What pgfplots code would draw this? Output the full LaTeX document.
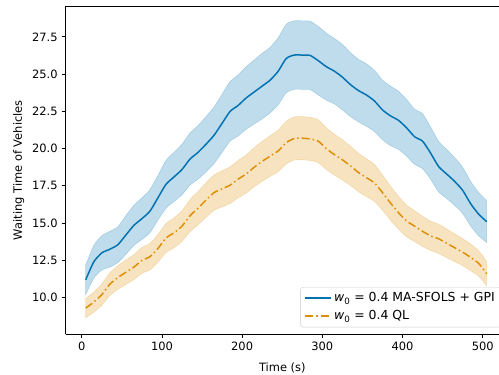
\documentclass[border=0pt]{standalone}
\usepackage{fontspec}
\setmainfont{DejaVu Sans}
\usepackage{pgfplots}
\usepackage{pgfplotstable}
\pgfplotsset{compat=1.18}
\usepgfplotslibrary{fillbetween}
\definecolor{cB}{RGB}{1,115,178}
\definecolor{cO}{RGB}{222,143,5}
\pgfplotstableread{
x m lo hi
5 11.2 10.2 12.2
15 12.4 11.3 13.5
25 13.0 11.85 14.15
35 13.25 12.05 14.45
45 13.55 12.35 14.75
55 14.2 12.9 15.5
65 14.85 13.5 16.2
75 15.3 13.9 16.7
85 15.8 14.35 17.25
95 16.7 15.2 18.2
105 17.6 16.0 19.2
115 18.1 16.45 19.75
125 18.6 16.9 20.3
135 19.3 17.55 21.05
145 19.75 17.95 21.55
155 20.3 18.45 22.15
165 20.9 19.0 22.8
175 21.7 19.75 23.65
185 22.5 20.5 24.5
195 22.9 20.85 24.95
205 23.4 21.3 25.5
215 23.8 21.65 25.95
225 24.2 22.0 26.4
235 24.6 22.4 26.8
245 25.2 22.95 27.45
255 26.05 23.75 28.35
265 26.28 23.98 28.58
275 26.28 23.98 28.58
285 26.25 23.95 28.55
295 25.9 23.6 28.2
305 25.5 23.25 27.75
315 25.2 23.0 27.4
325 24.8 22.6 27.0
335 24.3 22.15 26.45
345 23.9 21.8 26.0
355 23.6 21.5 25.7
365 23.2 21.15 25.25
375 22.6 20.6 24.6
385 22.2 20.2 24.2
395 21.9 19.95 23.85
405 21.4 19.5 23.3
415 20.8 18.95 22.65
425 20.5 18.65 22.35
435 19.7 17.95 21.45
445 18.8 17.1 20.5
455 18.3 16.65 19.95
465 17.8 16.2 19.4
475 17.2 15.65 18.75
485 16.3 14.8 17.8
495 15.6 14.15 17.05
505 15.1 13.7 16.5
}\gpi
\pgfplotstableread{
x m lo hi
5 9.3 8.65 9.95
15 9.7 9.02 10.38
25 10.2 9.49 10.91
35 10.9 10.14 11.66
45 11.35 10.56 12.14
55 11.7 10.88 12.52
65 12.05 11.21 12.89
75 12.5 11.63 13.37
85 12.75 11.86 13.64
95 13.3 12.37 14.23
105 14.0 13.02 14.98
115 14.35 13.35 15.35
125 14.8 13.77 15.83
135 15.5 14.42 16.58
145 16.0 14.88 17.12
155 16.55 15.39 17.71
165 17.05 15.86 18.24
175 17.3 16.09 18.51
185 17.55 16.32 18.78
195 17.95 16.69 19.21
205 18.3 17.02 19.58
215 18.75 17.44 20.06
225 19.15 17.81 20.49
235 19.5 18.14 20.86
245 19.85 18.46 21.24
255 20.4 18.97 21.83
265 20.68 19.23 22.13
275 20.7 19.25 22.15
285 20.65 19.2 22.1
295 20.5 19.06 21.94
305 20.0 18.6 21.4
315 19.6 18.23 20.97
325 19.25 17.9 20.6
335 18.85 17.53 20.17
345 18.4 17.11 19.69
355 18.05 16.78 19.32
365 17.7 16.46 18.94
375 17.05 15.87 18.23
385 16.35 15.21 17.49
395 15.7 14.6 16.8
405 15.15 14.09 16.21
415 14.8 13.76 15.84
425 14.45 13.44 15.46
435 14.15 13.16 15.14
445 13.95 12.97 14.93
455 13.65 12.69 14.61
465 13.35 12.42 14.28
475 13.05 12.14 13.96
485 12.7 11.81 13.59
495 12.3 11.44 13.16
505 11.6 10.79 12.41
}\ql
\begin{document}
\fontsize{11.5}{13.8}\selectfont
\begin{tikzpicture}
\begin{axis}[
  scale only axis,
  width=433.3bp, height=327.5bp,
  xmin=-20, xmax=520.3,
  ymin=7.56, ymax=29.54,
  axis x line*=box, axis y line*=left,
  axis line style={line width=0.8bp, black},
  xtick={0,100,200,300,400,500},
  ytick={10,12.5,15,17.5,20,22.5,25,27.5},
  xtick pos=left, ytick pos=left,
  tick align=outside,
  major tick length=4bp,
  every tick/.style={black, line width=0.8bp},
  ticklabel style={font=\fontsize{11.5}{13.8}\selectfont},
  /pgf/number format/assume math mode=true,
  yticklabel style={/pgf/number format/.cd, fixed, fixed zerofill, precision=1},
  xticklabel style={/pgf/number format/.cd, fixed, precision=0},
  xlabel={Time (s)},
  ylabel={Waiting Time of Vehicles},
  xlabel shift=4bp,
  label style={font=\fontsize{11.5}{13.8}\selectfont},
  legend style={at={(1,0)}, anchor=south east, xshift=2bp, yshift=6.7bp,
    draw=black!20, rounded corners=2.5bp, fill=white, fill opacity=0.8, text opacity=1,
    font=\fontsize{12.5}{15}\selectfont, row sep=3bp, inner xsep=4bp, inner ysep=3.5bp},
  legend cell align=left,
  legend image code/.code={\draw[#1] (0bp,0bp) -- (26bp,0bp);},
]
\addplot[draw=none, name path=bhi, forget plot, smooth, tension=0.4] table[x=x, y=hi] {\gpi};
\addplot[draw=none, name path=blo, forget plot, smooth, tension=0.4] table[x=x, y=lo] {\gpi};
\addplot[fill=cB, draw=cB, line width=0.5bp, opacity=0.25, forget plot] fill between[of=bhi and blo];
\addplot[draw=none, name path=ohi, forget plot, smooth, tension=0.4] table[x=x, y=hi] {\ql};
\addplot[draw=none, name path=olo, forget plot, smooth, tension=0.4] table[x=x, y=lo] {\ql};
\addplot[fill=cO, draw=cO, line width=0.5bp, opacity=0.25, forget plot] fill between[of=ohi and olo];
\addplot[cB, line width=1.5bp, smooth, tension=0.4] table[x=x, y=m] {\gpi};
\addlegendentry{\textit{w}\textsubscript{0} = 0.4 MA-SFOLS + GPI}
\addplot[cO, line width=1.5bp, smooth, tension=0.4, dash pattern=on 8bp off 3bp on 1.5bp off 3bp] table[x=x, y=m] {\ql};
\addlegendentry{\textit{w}\textsubscript{0} = 0.4 QL}
\end{axis}
\pgfresetboundingbox
\path (current axis.south west) ++(-65.7bp,-41bp) rectangle ++(499bp,375bp);
\end{tikzpicture}
\end{document}
